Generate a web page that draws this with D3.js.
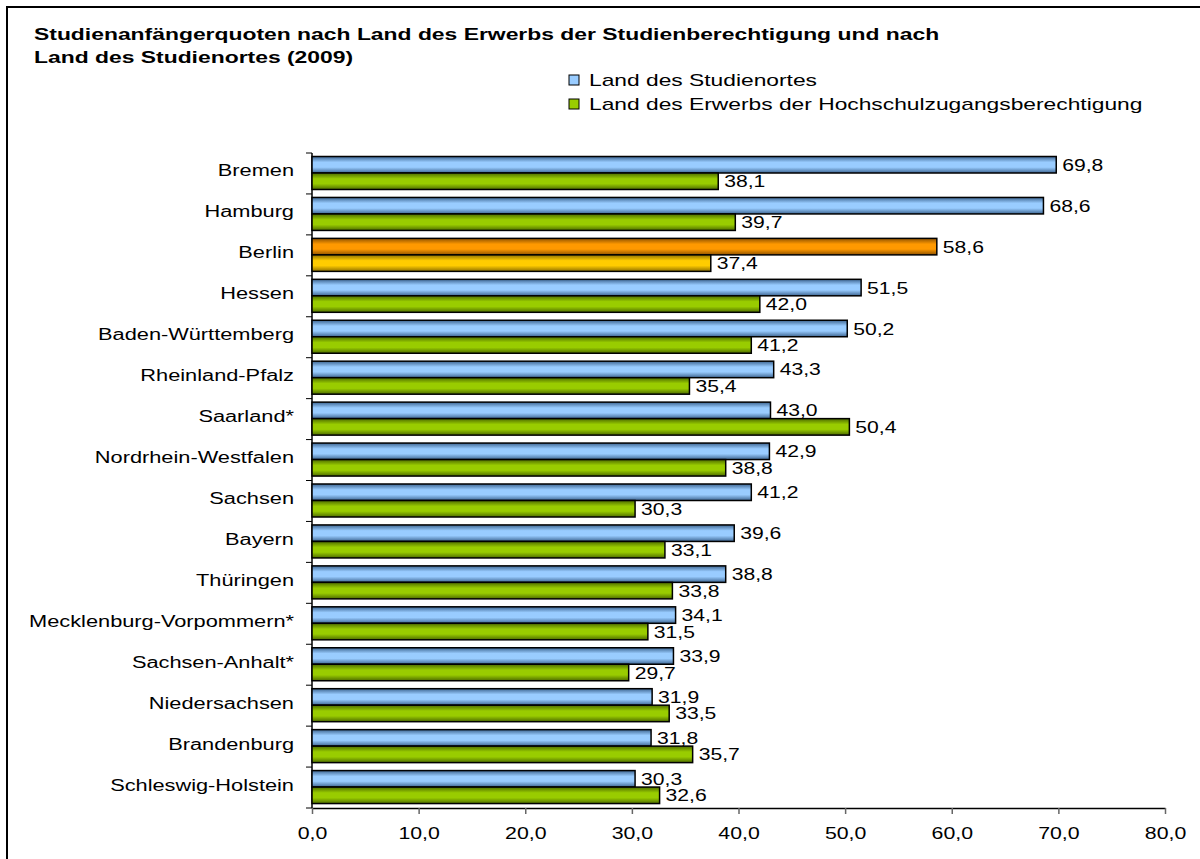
<!DOCTYPE html>
<html>
<head>
<meta charset="utf-8">
<script src="https://cdnjs.cloudflare.com/ajax/libs/d3/7.8.5/d3.min.js"></script>
<style>
  body { margin: 0; background: #fff; }
  svg { display: block; font-family: "Liberation Sans", Arial, sans-serif; }
</style>
</head>
<body>
<svg id="chart" width="1200" height="859"></svg>
<script>
// data
var laender = ["Bremen", "Hamburg", "Berlin", "Hessen", "Baden-Württemberg", "Rheinland-Pfalz",
    "Saarland*", "Nordrhein-Westfalen", "Sachsen", "Bayern", "Thüringen", "Mecklenburg-Vorpommern*",
    "Sachsen-Anhalt*", "Niedersachsen", "Brandenburg", "Schleswig-Holstein"];
var studienort = [69.8, 68.6, 58.6, 51.5, 50.2, 43.3, 43.0, 42.9, 41.2, 39.6, 38.8, 34.1, 33.9, 31.9, 31.8, 30.3];
var erwerb = [38.1, 39.7, 37.4, 42.0, 41.2, 35.4, 50.4, 38.8, 30.3, 33.1, 33.8, 31.5, 29.7, 33.5, 35.7, 32.6];
var xTicks = [0, 10, 20, 30, 40, 50, 60, 70, 80];
var seriesNames = ["Land des Studienortes", "Land des Erwerbs der Hochschulzugangsberechtigung"];
var highlight = "Berlin";

var svg = d3.select("#chart");
var fmt = function (v) { return d3.format(".1f")(v).replace(".", ","); };

// the original renders text wide, so stretch it horizontally
function stretch(sel, k) {
    sel.each(function () {
        var w = this.getComputedTextLength();
        d3.select(this).attr("textLength", w * k).attr("lengthAdjust", "spacingAndGlyphs");
    });
}

// gradients: dark edges, light middle
var defs = svg.append("defs");
var grads = {
    blue: ["#3d6591", "#99ccff"],
    green: ["#4d6b00", "#99cc00"],
    orange: ["#8f5200", "#ff9900"],
    yellow: ["#8f7000", "#ffcc00"]
};
Object.keys(grads).forEach(function (k) {
    var g = defs.append("linearGradient").attr("id", "g_" + k)
        .attr("x1", 0).attr("y1", 0).attr("x2", 0).attr("y2", 1);
    g.append("stop").attr("offset", "0%").attr("stop-color", grads[k][0]);
    g.append("stop").attr("offset", "35%").attr("stop-color", grads[k][1]);
    g.append("stop").attr("offset", "65%").attr("stop-color", grads[k][1]);
    g.append("stop").attr("offset", "100%").attr("stop-color", grads[k][0]);
});

// frame
svg.append("rect")
    .attr("x", 7).attr("y", 7).attr("width", 1210).attr("height", 870)
    .style("fill", "none").style("stroke", "#000").style("stroke-width", 2);

// title
var title = svg.append("g").style("font-size", "16px").style("font-weight", "bold");
title.append("text").attr("x", 34).attr("y", 40)
    .text("Studienanfängerquoten nach Land des Erwerbs der Studienberechtigung und nach");
title.append("text").attr("x", 34).attr("y", 63)
    .text("Land des Studienortes (2009)");
stretch(title.selectAll("text"), 1.43);

// legend
var legend = svg.append("g");
seriesNames.forEach(function (name, i) {
    var yy = 80 + i * 24;
    legend.append("rect").attr("x", 569).attr("y", yy - 5).attr("width", 10).attr("height", 10)
        .style("fill", i === 0 ? "#99ccff" : "#99cc00").style("stroke", "#000").style("stroke-width", 1);
    legend.append("text").attr("x", 589).attr("y", yy + 6)
        .style("font-size", "17px").text(name);
});
stretch(legend.selectAll("text"), 1.34);

var x = d3.scaleLinear().domain([0, 80]).range([312, 1165]);
var y = d3.scaleBand().domain(laender).range([153, 808]);
var barH = 16.5;

// axes
var xAxis = svg.append("g").attr("transform", "translate(0,808)")
    .call(d3.axisBottom(x).tickValues(xTicks).tickSize(6).tickSizeOuter(0).tickFormat(fmt));
xAxis.select(".domain").style("stroke", "#000").style("stroke-width", 1.5);
xAxis.selectAll(".tick line").attr("y1", 0).attr("y2", 6).style("stroke", "#666").style("stroke-width", 1.5);
xAxis.selectAll(".tick text").attr("y", 20).style("font-size", "16px")
    .style("font-family", "Liberation Sans, Arial, sans-serif").style("fill", "#000");
stretch(xAxis.selectAll(".tick text"), 1.33);

// y axis line and ticks at band boundaries
svg.append("line").attr("x1", 312).attr("x2", 312).attr("y1", 153).attr("y2", 808)
    .style("stroke", "#000").style("stroke-width", 1.5);
svg.selectAll(".ytick").data(d3.range(laender.length + 1)).enter().append("line")
    .attr("x1", 306).attr("x2", 312)
    .attr("y1", function (i) { return 153 + i * y.step(); })
    .attr("y2", function (i) { return 153 + i * y.step(); })
    .style("stroke", "#000").style("stroke-width", 1);

var ylabels = svg.selectAll(".ylabel").data(laender).enter().append("text")
    .attr("x", 294)
    .attr("y", function (d) { return y(d) + y.bandwidth() / 2 + 3; })
    .attr("text-anchor", "end")
    .style("font-size", "16px")
    .text(function (d) { return d; });
stretch(ylabels, 1.36);

// bars
function drawSeries(values, offset, normal, hi) {
    var g = svg.append("g");
    g.selectAll("rect").data(laender).enter().append("rect")
        .attr("x", x(0))
        .attr("y", function (d) { return y(d) + offset; })
        .attr("width", function (d, i) { return x(values[i]) - x(0); })
        .attr("height", barH)
        .style("fill", function (d) { return "url(#g_" + (d === highlight ? hi : normal) + ")"; })
        .style("stroke", "#000").style("stroke-width", 1.5);
    var labels = g.selectAll("text").data(laender).enter().append("text")
        .attr("x", function (d, i) { return x(values[i]) + 6; })
        .attr("y", function (d) { return y(d) + offset + barH / 2 + 6; })
        .style("font-size", "16px")
        .text(function (d, i) { return fmt(values[i]); });
    stretch(labels, 1.32);
}
drawSeries(studienort, 3.5, "blue", "orange");
drawSeries(erwerb, 3.5 + barH, "green", "yellow");
</script>
</body>
</html>
